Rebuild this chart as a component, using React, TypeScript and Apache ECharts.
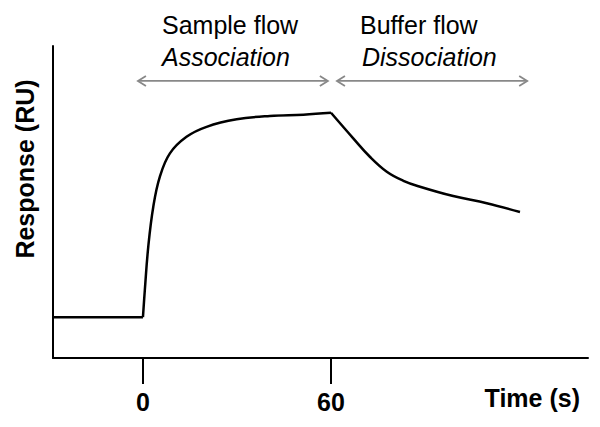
import React, { useEffect, useRef } from "react";
import * as echarts from "echarts";

// Time axis ticks
const timeTicks = [0, 60];
const timeMin = -28.7;
const timeMax = 142;

// Baseline (before injection)
const baselineTime = [-28.7, 0];
const baselineResponse = [13.1, 13.1];

// Association phase (sample flow)
const associationTime = [0, 0.6, 1.7, 3.3, 5.4, 8.6, 13.9, 20.3, 29.9, 40.5, 51.2, 60];
const associationResponse = [13.1, 21.8, 35.7, 48.5, 58.1, 65.6, 70.9, 74.1, 76.5, 77.6, 78.0, 78.6];

// Dissociation phase (buffer flow)
const dissociationTime = [60, 67.1, 72.4, 77.8, 83.1, 88.4, 99.0, 109.7, 120.3];
const dissociationResponse = [78.6, 70.4, 64.5, 59.7, 56.8, 54.9, 51.9, 49.6, 46.8];

// Phase arrows: [start time, end time, level]
const phaseArrows = [
  [-1.6, 59.0, 88.8],
  [61.9, 122.6, 88.8],
];

const zip = (a: number[], b: number[]) => a.map((v, i) => [v, b[i]]);

export default function App() {
  const ref = useRef<HTMLDivElement>(null);
  useEffect(() => {
    if (!ref.current) return;
    const chart = echarts.init(ref.current, null, { renderer: "svg" });
    const font = "'Liberation Sans', Arial, Helvetica, sans-serif";
    const lineStyle = { color: "#000", width: 2.5 };
    chart.setOption({
      animation: false,
      backgroundColor: "#fff",
      grid: { left: 53, top: 46, right: 12, bottom: 69, containLabel: false },
      xAxis: {
        type: "value",
        min: timeMin,
        max: timeMax,
        splitLine: { show: false },
        axisLine: { show: true, onZero: false, lineStyle: { color: "#000", width: 2 } },
        axisTick: {
          show: true,
          customValues: timeTicks,
          length: 26,
          lineStyle: { color: "#000", width: 2 },
        },
        axisLabel: {
          customValues: timeTicks,
          margin: 31,
          color: "#000",
          fontFamily: font,
          fontWeight: "bold",
          fontSize: 25,
        },
      },
      yAxis: {
        type: "value",
        min: 0,
        max: 100,
        splitLine: { show: false },
        axisLine: { show: true, onZero: false, lineStyle: { color: "#000", width: 2 } },
        axisTick: { show: false },
        axisLabel: { show: false },
      },
      series: [
        {
          type: "line",
          data: zip(baselineTime, baselineResponse),
          showSymbol: false,
          lineStyle,
        },
        {
          type: "line",
          data: zip(associationTime, associationResponse),
          showSymbol: false,
          smooth: 0.4,
          lineStyle,
        },
        {
          type: "line",
          data: zip(dissociationTime, dissociationResponse),
          showSymbol: false,
          smooth: 0.4,
          lineStyle,
        },
        {
          type: "custom",
          clip: false,
          encode: { x: [0, 1], y: 2 },
          data: phaseArrows,
          renderItem: (params: any, api: any) => {
            const p1 = api.coord([api.value(0), api.value(2)]);
            const p2 = api.coord([api.value(1), api.value(2)]);
            const s = { stroke: "#888", lineWidth: 1.8, fill: "none" };
            const hl = 8;
            const hw = 5;
            return {
              type: "group",
              children: [
                { type: "line", shape: { x1: p1[0], y1: p1[1], x2: p2[0], y2: p2[1] }, style: s },
                {
                  type: "polyline",
                  shape: { points: [[p1[0] + hl, p1[1] - hw], [p1[0], p1[1]], [p1[0] + hl, p1[1] + hw]] },
                  style: s,
                },
                {
                  type: "polyline",
                  shape: { points: [[p2[0] - hl, p2[1] - hw], [p2[0], p2[1]], [p2[0] - hl, p2[1] + hw]] },
                  style: s,
                },
              ],
            };
          },
        },
      ],
      graphic: [
        {
          type: "text",
          x: 162,
          y: 24.5,
          style: { text: "Sample flow", font: `25px ${font}`, fill: "#000", verticalAlign: "middle" },
        },
        {
          type: "text",
          x: 162,
          y: 56.5,
          style: { text: "Association", font: `italic 25px ${font}`, fill: "#000", verticalAlign: "middle" },
        },
        {
          type: "text",
          x: 360,
          y: 24.5,
          style: { text: "Buffer flow", font: `25px ${font}`, fill: "#000", verticalAlign: "middle" },
        },
        {
          type: "text",
          x: 362,
          y: 56.5,
          style: { text: "Dissociation", font: `italic 25px ${font}`, fill: "#000", verticalAlign: "middle" },
        },
        {
          type: "text",
          x: 580,
          y: 398,
          style: {
            text: "Time (s)",
            font: `bold 25px ${font}`,
            fill: "#000",
            align: "right",
            verticalAlign: "middle",
          },
        },
        {
          type: "text",
          x: 25,
          y: 169,
          rotation: Math.PI / 2,
          style: {
            text: "Response (RU)",
            font: `bold 25px ${font}`,
            fill: "#000",
            align: "center",
            verticalAlign: "middle",
          },
        },
      ],
    });
    return () => chart.dispose();
  }, []);
  return (
    <div
      ref={ref}
      style={{ position: "fixed", left: 0, top: 0, width: 600, height: 427 }}
    />
  );
}
